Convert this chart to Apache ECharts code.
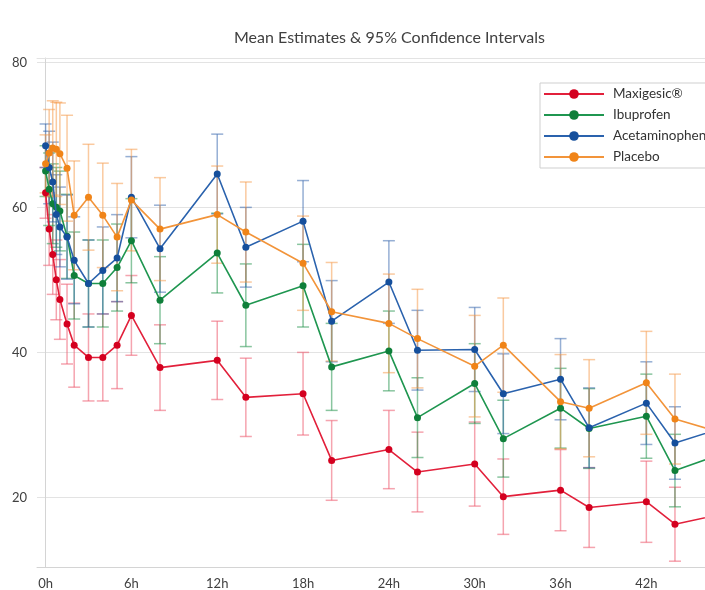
<!DOCTYPE html>
<html>
<head>
<meta charset="utf-8">
<script src="https://cdn.jsdelivr.net/npm/echarts@6/dist/echarts.min.js"></script>
<style>
html,body{margin:0;padding:0;background:#fff;}
#chart{width:705px;height:590px;}
</style>
</head>
<body>
<div id="chart"></div>
<script>
// ---- data ----
var times = [0, 0.25, 0.5, 0.75, 1, 1.5, 2, 3, 4, 5, 6, 8, 12, 14, 18, 20, 24, 26, 30, 32, 36, 38, 42, 44, 48];
var xTicks = [0, 6, 12, 18, 24, 30, 36, 42, 48];
var yTicks = [20, 40, 60, 80];
var seriesNames = ['Maxigesic\u00AE', 'Ibuprofen', 'Acetaminophen', 'Placebo'];

var maxigesicMean = [62, 57, 53.5, 50, 47.3, 43.9, 41.0, 39.3, 39.3, 41.0, 45.1, 37.9, 38.9, 33.8, 34.3, 25.1, 26.6, 23.5, 24.6, 20.1, 21.0, 18.6, 19.4, 16.3, 18.0];
var maxigesicErr  = [3.5, 5, 5.5, 5.5, 5.5, 5.5, 5.8, 6, 6, 6, 5.5, 5.9, 5.4, 5.4, 5.7, 5.5, 5.4, 5.5, 5.8, 5.2, 5.6, 5.5, 5.6, 5.1, 5.0];

var ibuprofenMean = [65, 62.5, 60.5, 60, 59.5, 56, 50.6, 49.5, 49.5, 51.7, 55.4, 47.2, 53.7, 46.5, 49.2, 38.0, 40.2, 31.0, 35.7, 28.1, 32.3, 29.5, 31.2, 23.7, 26.5];
var ibuprofenErr  = [3.5, 5, 5.5, 5.5, 5.5, 5.8, 6, 6, 6, 6, 5.8, 6, 5.5, 5.7, 5.7, 6, 5.5, 5.5, 5.5, 5.3, 5.5, 5.5, 5.8, 5, 5];

var acetaminophenMean = [68.5, 65.5, 63.5, 59, 57.3, 55.9, 52.7, 49.5, 51.3, 53.0, 61.4, 54.3, 64.6, 54.5, 58.1, 44.3, 49.7, 40.3, 40.4, 34.3, 36.3, 29.6, 33.0, 27.5, 30];
var acetaminophenErr  = [3, 5, 5.5, 5.5, 5.5, 5.8, 6, 6, 6, 6, 5.6, 6, 5.5, 5.5, 5.6, 5.6, 5.7, 5.5, 5.8, 5.5, 5.6, 5.5, 5.7, 5, 5];

var placeboMean = [66, 67.5, 68.2, 68, 67.4, 65.4, 58.9, 61.4, 58.9, 55.9, 61.0, 57.0, 59.0, 56.6, 52.3, 45.6, 44.0, 41.9, 38.1, 41.0, 33.2, 32.3, 35.8, 30.8, 28.5];
var placeboErr  = [4, 6, 6.5, 6.5, 7, 7.3, 7.5, 7.3, 7.2, 7.4, 7, 7.1, 6.7, 6.9, 6.5, 6.8, 6.8, 6.8, 7, 6.5, 6.5, 6.7, 7.1, 6.2, 6];

// ---- styles ----
var lineColors = ['#e2203b', '#1f9650', '#2a62ad', '#f2943a'];
var dotColors  = ['#d4001f', '#0f7f3a', '#154f9c', '#f08418'];
var errColors  = ['rgba(236,90,110,0.55)', 'rgba(40,150,80,0.55)', 'rgba(45,95,170,0.5)', 'rgba(245,150,65,0.5)'];

var means = [maxigesicMean, ibuprofenMean, acetaminophenMean, placeboMean];
var errs = [maxigesicErr, ibuprofenErr, acetaminophenErr, placeboErr];
var FONT = 'Lato';
var X_MIN = -0.6, X_MAX = 46.1, Y_MIN = 10.4, Y_MAX = 80.6;

function makeErr(i) {
  var data = times.map(function (t, k) { return [t, means[i][k] - errs[i][k], means[i][k] + errs[i][k]]; });
  return {
    type: 'custom',
    name: 'ci' + i,
    data: data,
    z: 1,
    clip: true,
    silent: true,
    encode: { x: 0, y: [1, 2] },
    renderItem: function (params, api) {
      var x = api.value(0);
      var lo = api.coord([x, api.value(1)]);
      var hi = api.coord([x, api.value(2)]);
      var hw = 6;
      var st = { stroke: errColors[i], lineWidth: 1.5, fill: null };
      return {
        type: 'group',
        children: [
          { type: 'line', shape: { x1: lo[0], y1: lo[1], x2: hi[0], y2: hi[1] }, style: st },
          { type: 'line', shape: { x1: lo[0] - hw, y1: lo[1], x2: lo[0] + hw, y2: lo[1] }, style: st },
          { type: 'line', shape: { x1: hi[0] - hw, y1: hi[1], x2: hi[0] + hw, y2: hi[1] }, style: st }
        ]
      };
    }
  };
}

function makeLine(i) {
  var s = {
    type: 'line',
    name: seriesNames[i],
    data: times.map(function (t, k) { return [t, means[i][k]]; }),
    z: 3 + i,
    clip: true,
    symbol: 'circle',
    symbolSize: 7,
    lineStyle: { color: lineColors[i], width: 1.6 },
    itemStyle: { color: dotColors[i] },
    emphasis: { disabled: true }
  };
  if (i === 0) {
    s.markLine = {
      silent: true,
      symbol: 'none',
      label: { show: false },
      z: 0,
      lineStyle: { color: '#e3e3e3', width: 1, type: 'solid' },
      data: yTicks.map(function (v) { return { yAxis: v }; })
    };
  }
  return s;
}

var series = [];
for (var i = 0; i < 4; i++) series.push(makeErr(i));
for (var j = 0; j < 4; j++) series.push(makeLine(j));

var chart = echarts.init(document.getElementById('chart'), null, { renderer: 'canvas' });
chart.setOption({
  animation: false,
  backgroundColor: '#ffffff',
  title: {
    text: 'Mean Estimates & 95% Confidence Intervals',
    left: 229,
    top: 25,
    textStyle: { fontFamily: FONT, fontSize: 16, fontWeight: 'normal', color: '#404040' }
  },
  legend: {
    data: seriesNames,
    orient: 'vertical',
    left: 540,
    top: 83,
    itemWidth: 60,
    itemHeight: 12,
    itemGap: 7,
    padding: [4, 60, 4, 3],
    borderColor: '#cfcfcf',
    borderWidth: 1,
    backgroundColor: '#ffffff',
    textStyle: { fontFamily: FONT, fontSize: 13.5, color: '#333', padding: [0, 0, 0, 4] }
  },
  grid: { left: 37, top: 58, bottom: 23, right: 0 },
  xAxis: [{
    type: 'value',
    min: X_MIN,
    max: X_MAX,
    axisLine: { show: true, lineStyle: { color: '#d4d4d4', width: 1 } },
    axisTick: { show: false },
    splitLine: { show: false },
    axisLabel: {
      customValues: xTicks,
      formatter: function (v) { return v + 'h'; },
      fontFamily: FONT, fontSize: 13, color: '#404040', margin: 10
    }
  }, {
    type: 'value',
    position: 'top',
    min: X_MIN,
    max: X_MAX,
    axisLine: { show: true, lineStyle: { color: '#e3e3e3', width: 1 } },
    axisTick: { show: false },
    splitLine: { show: false },
    axisLabel: { show: false }
  }],
  yAxis: {
    type: 'value',
    min: Y_MIN,
    max: Y_MAX,
    axisLine: { show: true, lineStyle: { color: '#d4d4d4', width: 1 } },
    axisTick: { show: false },
    splitLine: { show: false },
    axisLabel: {
      customValues: yTicks,
      fontFamily: FONT, fontSize: 13, color: '#404040', margin: 10
    }
  },
  series: series
});
</script>
</body>
</html>
